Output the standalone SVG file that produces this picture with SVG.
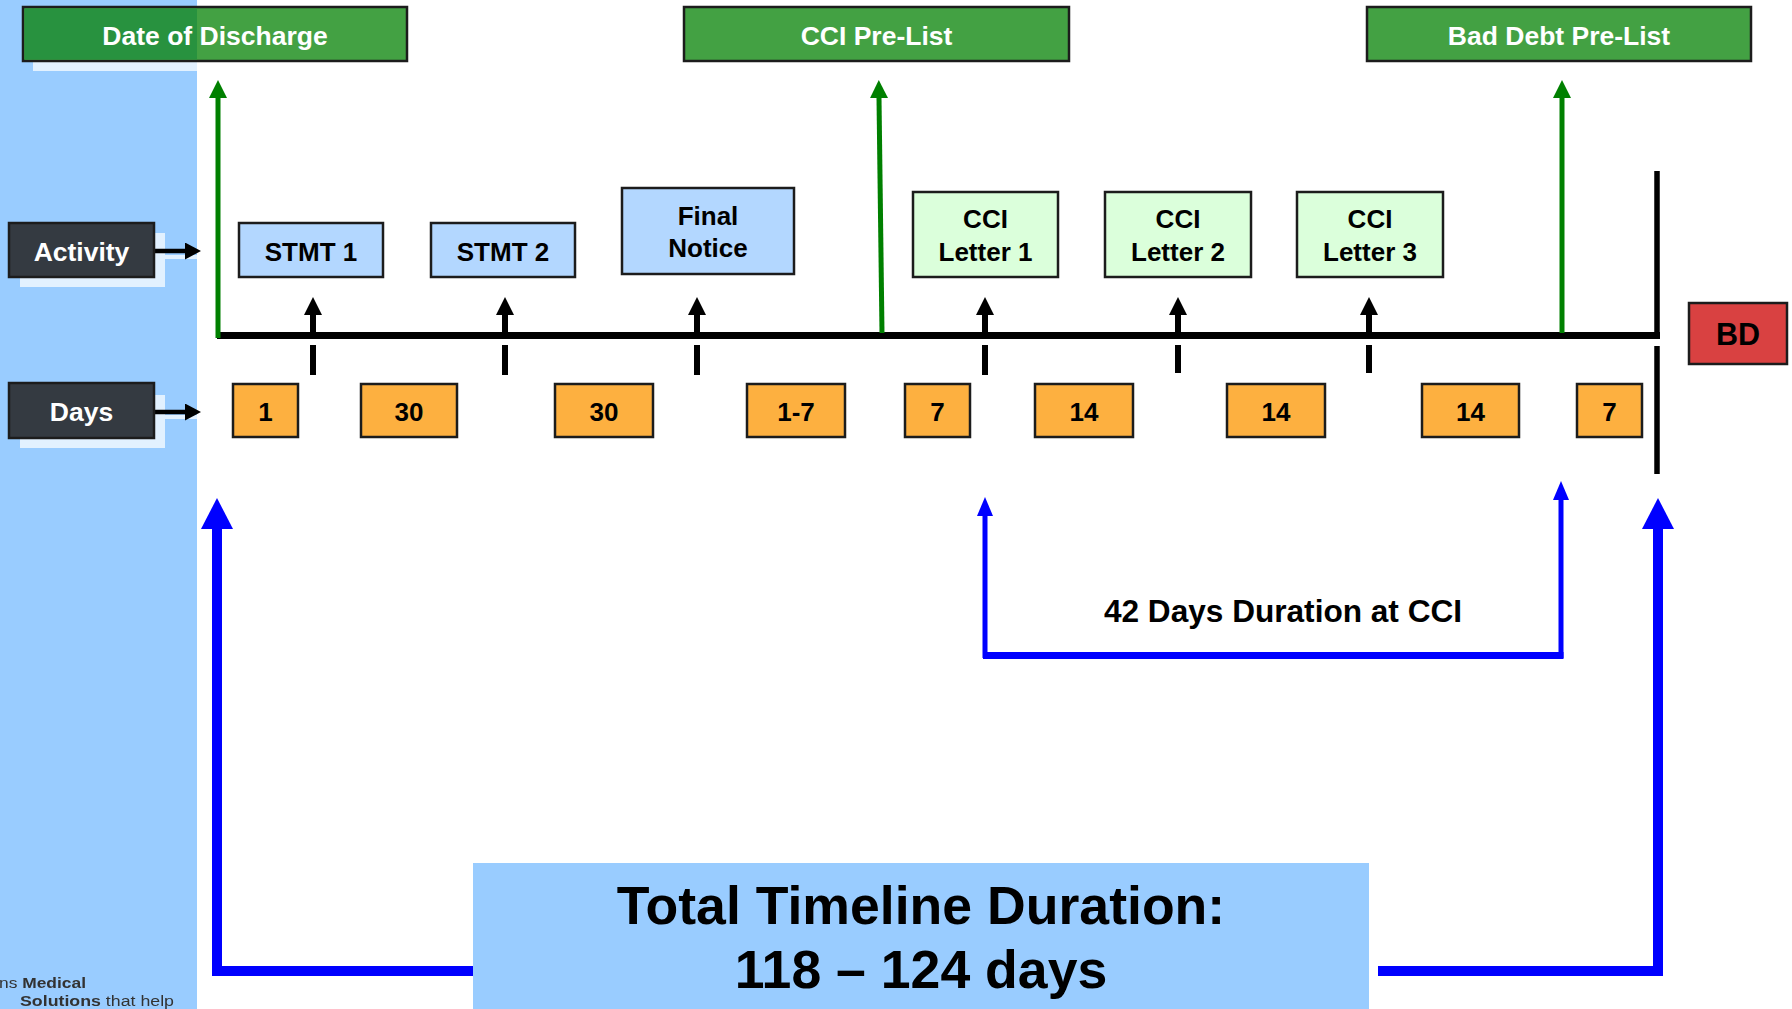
<svg xmlns="http://www.w3.org/2000/svg" width="1792" height="1009" viewBox="0 0 1792 1009">
  <style>
    .t { font-family: "Liberation Sans", Arial, sans-serif; font-weight: bold; text-anchor: middle; }
    .w { fill: #ffffff; font-size: 26.5px; }
    .k { fill: #000000; font-size: 26px; }
    .box { stroke: #1c1c1c; stroke-width: 2.5; }
    .milestone { fill: #43a143; }
    .label { fill: #343a41; }
    .stmt { fill: #b3d7ff; }
    .cci { fill: #dbffdb; }
    .day { fill: #fdb040; }
    .shadow { fill: #e2f1ff; }
    .tick { stroke: #000; stroke-width: 6; }
    .up { stroke: #000; stroke-width: 6; fill: none; marker-end: url(#head-black); }
    .green { stroke: #008000; stroke-width: 5; fill: none; marker-end: url(#head-green); }
    .big { stroke: #0000ff; stroke-width: 10; fill: none; }
    .small { stroke: #0000ff; stroke-width: 5; fill: none; }
  </style>
  <defs>
    <marker id="head-black" markerUnits="userSpaceOnUse" viewBox="0 0 18 18" markerWidth="18" markerHeight="18" refX="0" refY="9" orient="auto">
      <path d="M0,0 L18,9 L0,18 Z" fill="#000"/>
    </marker>
    <marker id="head-side" markerUnits="userSpaceOnUse" viewBox="0 0 16 17" markerWidth="16" markerHeight="17" refX="0" refY="8.5" orient="auto">
      <path d="M0,0 L16,8.5 L0,17 Z" fill="#000"/>
    </marker>
    <marker id="head-green" markerUnits="userSpaceOnUse" viewBox="0 0 18 18" markerWidth="18" markerHeight="18" refX="0" refY="9" orient="auto">
      <path d="M0,0 L18,9 L0,18 Z" fill="#008000"/>
    </marker>
    <marker id="head-blue-big" markerUnits="userSpaceOnUse" viewBox="0 0 31 32" markerWidth="31" markerHeight="32" refX="0" refY="16" orient="auto">
      <path d="M0,0 L31,16 L0,32 Z" fill="#0000ff"/>
    </marker>
    <marker id="head-blue-small" markerUnits="userSpaceOnUse" viewBox="0 0 19 16" markerWidth="19" markerHeight="16" refX="0" refY="8" orient="auto">
      <path d="M0,0 L19,8 L0,16 Z" fill="#0000ff"/>
    </marker>
    <filter id="soft" x="-5%" y="-20%" width="110%" height="140%">
      <feGaussianBlur stdDeviation="0.6"/>
    </filter>
  </defs>

  <rect width="1792" height="1009" fill="#ffffff"/>

  <!-- side panel -->
  <rect x="0" y="0" width="197" height="1009" fill="#99ccff"/>
  <g id="panel-shadows">
    <rect class="shadow" x="33" y="18" width="164" height="53"/>
    <rect class="shadow" x="20" y="233" width="145" height="54"/>
    <rect class="shadow" x="20" y="395" width="145" height="53"/>
    <line x1="160" y1="257" x2="197" y2="257" stroke="#e2f1ff" stroke-width="4"/>
    <line x1="160" y1="417" x2="197" y2="417" stroke="#e2f1ff" stroke-width="4"/>
  </g>
  <g id="footer" filter="url(#soft)" font-family="'Liberation Sans', Arial, sans-serif" font-size="15.5" fill="#333">
    <text x="-1" y="988" textLength="87" lengthAdjust="spacingAndGlyphs">ns <tspan font-weight="bold">Medical</tspan></text>
    <text x="20" y="1006" textLength="154" lengthAdjust="spacingAndGlyphs"><tspan font-weight="bold">Solutions</tspan> that help</text>
  </g>

  <!-- connectors -->
  <g id="connectors">
    <!-- main timeline -->
    <line x1="217" y1="335.5" x2="1660" y2="335.5" stroke="#000" stroke-width="7"/>
    <line x1="1657" y1="171" x2="1657" y2="339" stroke="#000" stroke-width="5.5"/>
    <line x1="1657" y1="346" x2="1657" y2="474" stroke="#000" stroke-width="5.5"/>

    <!-- row pointers -->
    <line x1="154" y1="251" x2="185" y2="251" stroke="#000" stroke-width="4.5" marker-end="url(#head-side)"/>
    <line x1="154" y1="412" x2="185" y2="412" stroke="#000" stroke-width="4.5" marker-end="url(#head-side)"/>

    <!-- activity arrows and day ticks -->
    <line class="up" x1="313" y1="333" x2="313" y2="315"/>
    <line class="up" x1="505" y1="333" x2="505" y2="315"/>
    <line class="up" x1="697" y1="333" x2="697" y2="315"/>
    <line class="up" x1="985" y1="333" x2="985" y2="315"/>
    <line class="up" x1="1178" y1="333" x2="1178" y2="315"/>
    <line class="up" x1="1369" y1="333" x2="1369" y2="315"/>
    <line class="tick" x1="313" y1="345" x2="313" y2="375"/>
    <line class="tick" x1="505" y1="345" x2="505" y2="375"/>
    <line class="tick" x1="697" y1="345" x2="697" y2="375"/>
    <line class="tick" x1="985" y1="345" x2="985" y2="375"/>
    <line class="tick" x1="1178" y1="345" x2="1178" y2="373"/>
    <line class="tick" x1="1369" y1="345" x2="1369" y2="373"/>

    <!-- milestone arrows -->
    <line class="green" x1="218" y1="338" x2="218" y2="98"/>
    <line class="green" x1="882" y1="333" x2="879" y2="98"/>
    <line class="green" x1="1562" y1="333" x2="1562" y2="98"/>

    <!-- 42 day bracket -->
    <line class="small" x1="985" y1="658" x2="985" y2="516" marker-end="url(#head-blue-small)"/>
    <line class="small" x1="1561" y1="658" x2="1561" y2="500" marker-end="url(#head-blue-small)"/>
    <line x1="983" y1="655.5" x2="1563.5" y2="655.5" stroke="#0000ff" stroke-width="7"/>

    <!-- total duration bracket -->
    <line class="big" x1="217" y1="976" x2="217" y2="529" marker-end="url(#head-blue-big)"/>
    <line class="big" x1="1658" y1="976" x2="1658" y2="529" marker-end="url(#head-blue-big)"/>
    <line class="big" x1="212" y1="971" x2="473" y2="971"/>
    <line class="big" x1="1378" y1="971" x2="1663" y2="971"/>
  </g>

  <!-- milestones -->
  <g id="date-of-discharge">
    <rect class="box milestone" x="23" y="7" width="384" height="54"/>
    <rect x="24.5" y="8.5" width="172.5" height="51" fill="#28923f"/>
    <text class="t w" x="215" y="45">Date of Discharge</text>
  </g>
  <g id="cci-pre-list">
    <rect class="box milestone" x="684" y="7" width="385" height="54"/>
    <text class="t w" x="876.5" y="45">CCI Pre-List</text>
  </g>
  <g id="bad-debt-pre-list">
    <rect class="box milestone" x="1367" y="7" width="384" height="54"/>
    <text class="t w" x="1559" y="45">Bad Debt Pre-List</text>
  </g>

  <!-- row labels -->
  <g id="activity-label">
    <rect class="box label" x="9" y="223" width="145" height="54"/>
    <text class="t w" x="81.5" y="261">Activity</text>
  </g>
  <g id="days-label">
    <rect class="box label" x="9" y="383" width="145" height="55"/>
    <text class="t w" x="81.5" y="421">Days</text>
  </g>

  <!-- activities -->
  <g id="stmt-1">
    <rect class="box stmt" x="239" y="223" width="144" height="54"/>
    <text class="t k" x="311" y="261">STMT 1</text>
  </g>
  <g id="stmt-2">
    <rect class="box stmt" x="431" y="223" width="144" height="54"/>
    <text class="t k" x="503" y="261">STMT 2</text>
  </g>
  <g id="final-notice">
    <rect class="box stmt" x="622" y="188" width="172" height="86"/>
    <text class="t k" x="708" y="225">Final</text>
    <text class="t k" x="708" y="257">Notice</text>
  </g>
  <g id="cci-letter-1">
    <rect class="box cci" x="913" y="192" width="145" height="85"/>
    <text class="t k" x="985.5" y="228">CCI</text>
    <text class="t k" x="985.5" y="261">Letter 1</text>
  </g>
  <g id="cci-letter-2">
    <rect class="box cci" x="1105" y="192" width="146" height="85"/>
    <text class="t k" x="1178" y="228">CCI</text>
    <text class="t k" x="1178" y="261">Letter 2</text>
  </g>
  <g id="cci-letter-3">
    <rect class="box cci" x="1297" y="192" width="146" height="85"/>
    <text class="t k" x="1370" y="228">CCI</text>
    <text class="t k" x="1370" y="261">Letter 3</text>
  </g>

  <g id="bd">
    <rect class="box" x="1689" y="303" width="98" height="61" fill="#d94141"/>
    <text class="t" x="1738" y="345" font-size="30.5">BD</text>
  </g>

  <!-- day counts -->
  <g id="day-1"><rect class="box day" x="233" y="384" width="65" height="53"/><text class="t k" x="265.5" y="421">1</text></g>
  <g id="day-30a"><rect class="box day" x="361" y="384" width="96" height="53"/><text class="t k" x="409" y="421">30</text></g>
  <g id="day-30b"><rect class="box day" x="555" y="384" width="98" height="53"/><text class="t k" x="604" y="421">30</text></g>
  <g id="day-1-7"><rect class="box day" x="747" y="384" width="98" height="53"/><text class="t k" x="796" y="421">1-7</text></g>
  <g id="day-7a"><rect class="box day" x="905" y="384" width="65" height="53"/><text class="t k" x="937.5" y="421">7</text></g>
  <g id="day-14a"><rect class="box day" x="1035" y="384" width="98" height="53"/><text class="t k" x="1084" y="421">14</text></g>
  <g id="day-14b"><rect class="box day" x="1227" y="384" width="98" height="53"/><text class="t k" x="1276" y="421">14</text></g>
  <g id="day-14c"><rect class="box day" x="1422" y="384" width="97" height="53"/><text class="t k" x="1470.5" y="421">14</text></g>
  <g id="day-7b"><rect class="box day" x="1577" y="384" width="65" height="53"/><text class="t k" x="1609.5" y="421">7</text></g>

  <g id="cci-duration">
    <text class="t" x="1283" y="622" font-size="31.6">42 Days Duration at CCI</text>
  </g>

  <g id="total-duration">
    <rect x="473" y="863" width="896" height="146" fill="#99ccff"/>
    <text class="t" x="921" y="924" font-size="53.6">Total Timeline Duration:</text>
    <text class="t" x="921" y="988" font-size="53.6">118 – 124 days</text>
  </g>
</svg>
